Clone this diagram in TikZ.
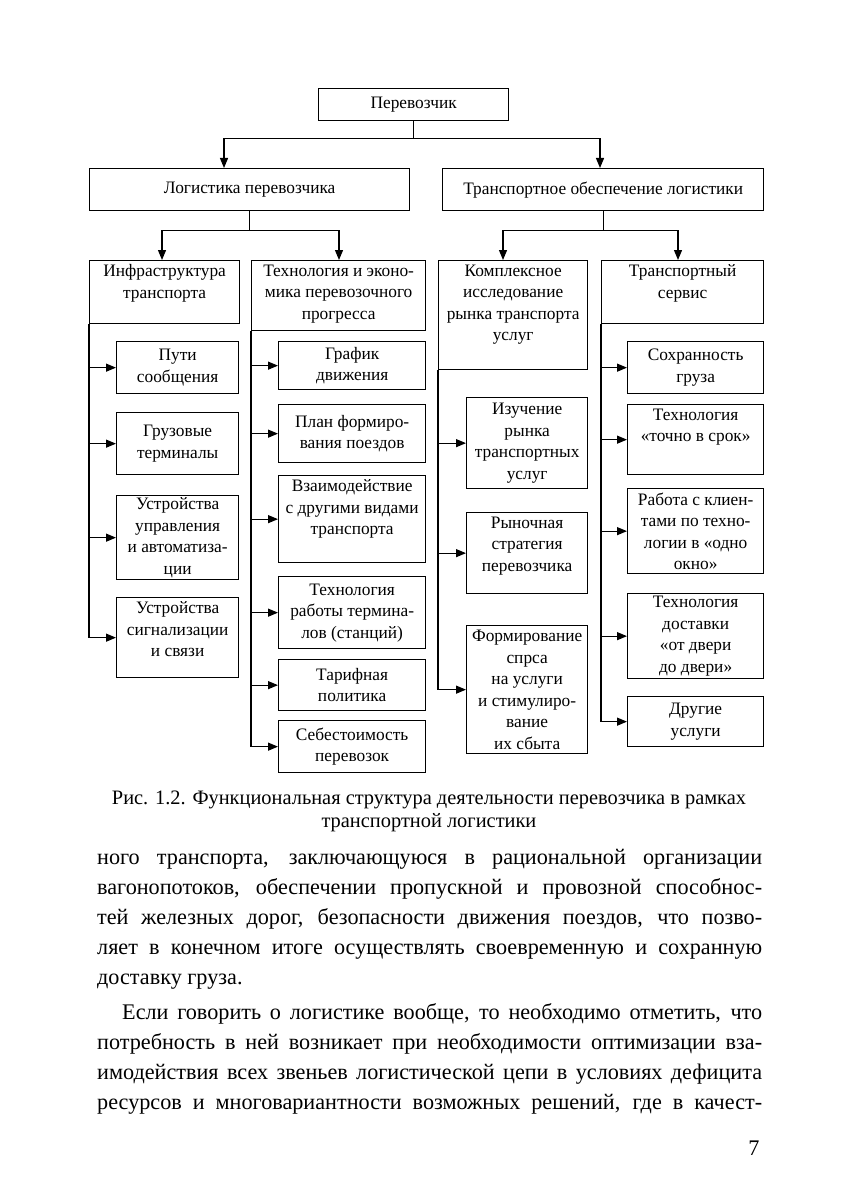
\documentclass[tikz,border=0pt]{standalone}
\usepackage{fontspec}
\setmainfont{Liberation Serif}
\newfontfamily\dgfont{Liberation Serif}[FakeStretch=0.99]
\newfontfamily\bodyfont{Liberation Serif}[FakeStretch=0.995]
\usetikzlibrary{arrows.meta,calc}
\tikzset{
  box/.style={draw, line width=1.3pt, inner sep=0pt, anchor=north west,
    font=\dgfont\fontsize{17.5}{21.5}\selectfont},
  ln/.style={line width=1.2pt},
  arr/.style={line width=1.2pt, -{Triangle[length=10pt,width=8pt]}},
}
% name, x1, y1, x2, y2, vertical position (c/t), text
\newcommand\bx[7]{%
  \node[box, minimum width={#4pt-#2pt}, minimum height={#5pt-#3pt}] (#1) at (#2,#3)
  {\parbox[c][\dimexpr#5pt-#3pt-8pt\relax][#6]{\dimexpr#4pt-#2pt-4pt\relax}{\centering #7\par}};}
\begin{document}
\begin{tikzpicture}[x=1pt,y=-1pt]
\fill[white] (0,0) rectangle (857,1182);
\useasboundingbox (0,0) rectangle (857,1182);

\bx{per}{318}{88}{508}{120}{c}{Перевозчик}
\bx{log}{89}{168}{409}{210}{c}{Логистика перевозчика}
\bx{tro}{442}{168}{763}{210}{c}{Транспортное обеспечение логистики}

\bx{inf}{89}{260}{239}{323}{t}{Инфраструктура\\транспорта}
\bx{tec}{251}{260}{425}{330}{t}{Технология и эконо-\\мика перевозочного\\прогресса}
\bx{kom}{438}{260}{587}{369}{t}{Комплексное\\исследование\\рынка транспорта\\услуг}
\bx{ser}{601}{260}{763}{323}{t}{Транспортный\\сервис}

\bx{put}{116}{341}{238}{393}{c}{Пути\\сообщения}
\bx{gru}{116}{412}{238}{474}{c}{Грузовые\\терминалы}
\bx{ust}{116}{495}{238}{579}{c}{Устройства\\управления\\и автоматиза-\\ции}
\bx{sig}{116}{597}{238}{677}{t}{Устройства\\сигнализации\\и связи}

\bx{gra}{278}{341}{425}{389}{c}{График\\движения}
\bx{pla}{278}{404}{425}{462}{c}{План формиро-\\вания поездов}
\bx{vza}{278}{475}{425}{562}{t}{Взаимодействие\\с другими видами\\транспорта}
\bx{ter}{278}{576}{425}{648}{c}{Технология\\работы термина-\\лов (станций)}
\bx{tar}{278}{659}{425}{710}{c}{Тарифная\\политика}
\bx{seb}{278}{720}{425}{772}{c}{Себестоимость\\перевозок}

\bx{izu}{466}{397}{587}{488}{c}{Изучение\\рынка\\транспортных\\услуг}
\bx{ryn}{466}{512}{587}{593}{t}{Рыночная\\стратегия\\перевозчика}
\bx{frm}{466}{625}{587}{753}{c}{Формирование\\спрса\\на услуги\\и стимулиро-\\вание\\их сбыта}

\bx{soh}{627}{341}{763}{393}{c}{Сохранность\\груза}
\bx{toc}{627}{404}{763}{474}{t}{Технология\\«точно в срок»}
\bx{rab}{627}{488}{763}{573}{c}{Работа с клиен-\\тами по техно-\\логии в «одно\\окно»}
\bx{dos}{627}{593}{763}{678}{c}{Технология\\доставки\\«от двери\\до двери»}
\bx{dru}{627}{696}{763}{746}{c}{Другие\\услуги}

% top level connectors
\draw[ln] (per.south) -- ++(0,17) coordinate (j1);
\draw[arr] (j1) -| ([xshift=135]log.north west);
\draw[arr] (j1) -| ([xshift=158]tro.north west);
\draw[ln] (log.south) -- ++(0,19) coordinate (j2);
\draw[arr] (j2) -| ([xshift=73]inf.north west);
\draw[arr] (j2) -| ([xshift=88]tec.north west);
\draw[ln] (tro.south) -- ++(0,19) coordinate (j3);
\draw[arr] (j3) -| ([xshift=65]kom.north west);
\draw[arr] (j3) -| ([xshift=77]ser.north west);

% side connectors
\draw[ln] (inf.south west) -- (inf.south west |- sig.west);
\foreach \c in {put,gru,ust,sig} \draw[arr] (inf.south west |- \c.west) -- (\c.west);
\draw[ln] (tec.south west) -- (tec.south west |- seb.west);
\foreach \c in {gra,pla,vza,ter,tar,seb} \draw[arr] (tec.south west |- \c.west) -- (\c.west);
\draw[ln] (kom.south west) -- (kom.south west |- frm.west);
\foreach \c in {izu,ryn,frm} \draw[arr] (kom.south west |- \c.west) -- (\c.west);
\draw[ln] (ser.south west) -- (ser.south west |- dru.west);
\foreach \c in {soh,toc,rab,dos,dru} \draw[arr] (ser.south west |- \c.west) -- (\c.west);

% caption
\node[font=\bodyfont\fontsize{20.5}{23}\selectfont, align=center] (cap) at (429,811)
  {Рис. 1.2. Функциональная структура деятельности перевозчика в рамках\\транспортной логистики};

% body text
\node[anchor=north west, inner sep=0pt, text width=665pt, align=justify,
  font=\bodyfont\fontsize{22.3}{30}\selectfont] (body) at (97,849)
 {\tolerance=10000\hyphenpenalty=10000\parindent=0pt
  ного транспорта, заключающуюся в рациональной организации\linebreak
  вагонопотоков, обеспечении пропускной и провозной способнос-\linebreak
  тей железных дорог, безопасности движения поездов, что позво-\linebreak
  ляет в конечном итоге осуществлять своевременную и сохранную\linebreak
  доставку груза.\par\vspace{5pt}
  \hspace*{25pt}Если говорить о логистике вообще, то необходимо отметить, что\linebreak
  потребность в ней возникает при необходимости оптимизации вза-\linebreak
  имодействия всех звеньев логистической цепи в условиях дефицита\linebreak
  ресурсов и многовариантности возможных решений, где в качест-\linebreak\par};

\node[font=\bodyfont\fontsize{22.3}{30}\selectfont, anchor=base east] (pg) at (763,1155) {7};
\end{tikzpicture}
\end{document}
